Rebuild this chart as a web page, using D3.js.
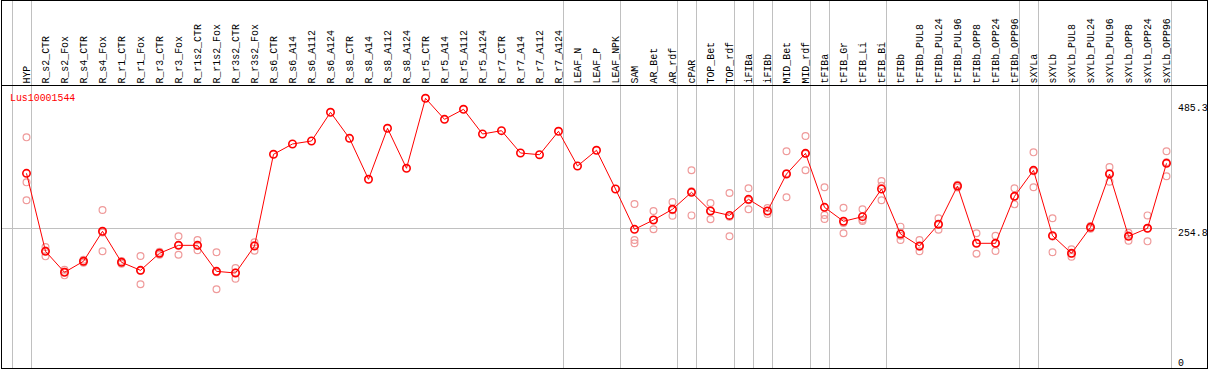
<!DOCTYPE html>
<html>
<head>
<meta charset="utf-8">
<script src="https://cdn.jsdelivr.net/npm/d3@7"></script>
<style>
  body { margin: 0; background: #fff; }
  svg { display: block; font-family: "Liberation Mono", "DejaVu Sans Mono", monospace; }
</style>
</head>
<body>
<div id="chart"></div>
<script>
const geneName = "Lus10001544";

const samples = [
  "HYP", "R_s2_CTR", "R_s2_Fox", "R_s4_CTR", "R_s4_Fox", "R_r1_CTR", "R_r1_Fox",
  "R_r3_CTR", "R_r3_Fox", "R_r1s2_CTR", "R_r1s2_Fox", "R_r3s2_CTR", "R_r3s2_Fox",
  "R_s6_CTR", "R_s6_A14", "R_s6_A112", "R_s6_A124", "R_s8_CTR", "R_s8_A14",
  "R_s8_A112", "R_s8_A124", "R_r5_CTR", "R_r5_A14", "R_r5_A112", "R_r5_A124",
  "R_r7_CTR", "R_r7_A14", "R_r7_A112", "R_r7_A124", "LEAF_N", "LEAF_P", "LEAF_NPK",
  "SAM", "AR_Bet", "AR_rdf", "cPAR", "TOP_Bet", "TOP_rdf", "iFIBa", "iFIBb",
  "MID_Bet", "MID_rdf", "tFIBa", "tFIB_Gr", "tFIB_Li", "tFIB_Bi", "tFIBb",
  "tFIBb_PUL8", "tFIBb_PUL24", "tFIBb_PUL96", "tFIBb_OPP8", "tFIBb_OPP24", "tFIBb_OPP96",
  "sXYLa", "sXYLb", "sXYLb_PUL8", "sXYLb_PUL24", "sXYLb_PUL96", "sXYLb_OPP8",
  "sXYLb_OPP24", "sXYLb_OPP96"
];

const means = [
  352.3, 214.0, 176.8, 196.3, 249.5, 194.5, 180.3, 210.5, 224.6, 224.6, 178.5, 175.5, 223.4,
  386.0, 404.3, 409.6, 460.5, 414.3, 341.7, 432.1, 361.2, 485.3, 448.0, 465.8, 422.0,
  427.9, 388.3, 385.3, 426.8, 365.3, 393.1, 324.5,
  253.0, 269.5, 288.5, 318.6, 285.5, 277.7, 306.2, 285.5, 351.1, 387.7,
  292.0, 267.2, 275.4, 324.5, 244.7, 223.4, 261.9, 329.8, 228.2, 228.2, 311.5,
  357.6, 241.7, 210.5, 256.5, 351.1, 240.6, 254.8, 370.0
];

// replicate values per sample (empty where only the mean is shown)
const replicates = [
  [416.1, 336.3, 304.4], [221.6, 215.3, 205.1], [181.4, 177.6, 171.4], [199.0, 196.3, 193.6],
  [287.2, 247.3, 214.0], [197.0, 194.5, 192.0], [205.7, 179.7, 155.5], [213.0, 210.5, 208.0],
  [240.6, 225.2, 208.0], [234.0, 224.0, 215.8], [212.2, 176.7, 146.6], [184.4, 176.6, 165.5],
  [230.0, 225.1, 215.1],
  [], [], [], [], [], [], [], [], [], [], [], [], [], [], [], [], [], [], [],
  [297.9, 234.0, 228.2], [285.5, 270.0, 253.0], [301.4, 287.0, 277.1], [357.6, 320.5, 277.7],
  [299.7, 286.0, 270.8], [317.4, 275.1, 240.6], [325.7, 304.4, 288.5], [290.8, 285.5, 280.2],
  [391.3, 352.3, 309.7], [418.5, 387.0, 357.6], [327.5, 278.4, 271.3], [291.3, 264.4, 245.9],
  [288.5, 270.0, 267.7], [338.7, 330.4, 304.4], [257.7, 241.6, 234.0], [234.0, 222.2, 214.0],
  [272.5, 261.0, 252.3], [332.0, 329.8, 327.0], [245.9, 228.9, 209.8], [241.7, 228.4, 214.5],
  [325.7, 311.5, 297.3], [389.5, 355.8, 327.5], [272.5, 240.4, 212.2], [217.6, 209.5, 204.4],
  [259.0, 256.5, 254.0], [363.5, 352.4, 337.4], [247.0, 242.0, 232.8], [277.7, 255.0, 231.7],
  [391.3, 371.7, 347.0]
];

// last sample of each group, a grey rule is drawn after it
const groupEnds = [
  "HYP", "R_r7_A124", "LEAF_NPK", "AR_rdf", "cPAR", "TOP_rdf", "iFIBa", "iFIBb",
  "MID_rdf", "tFIBa", "tFIB_Bi", "tFIBb_OPP96", "sXYLa", "sXYLb_OPP96"
];

const yTicks = [485.3, 254.8, 0];

const width = 1209, height = 370;
const headerBottom = 85.5, plotBottom = 368.5;
const fontSize = 11.5, squeeze = 0.86;  // narrow mono, like the old bitmap font

const svg = d3.select("#chart").append("svg")
  .attr("width", width)
  .attr("height", height);

const x = d3.scaleBand()
  .domain(samples)
  .range([11.5, 1170.5]);

const y = d3.scaleLinear()
  .domain([0, d3.max(means)])
  .range([372, 98.3]);

const cx = d => x(d) + 15;

// grey group separators
const seps = [x(samples[0])].concat(groupEnds.map(d => x(d) + x.bandwidth()));
svg.append("g")
  .selectAll("line")
  .data(seps)
  .join("line")
  .attr("x1", d => Math.round(d) + 0.5)
  .attr("x2", d => Math.round(d) + 0.5)
  .attr("y1", 1)
  .attr("y2", plotBottom)
  .attr("stroke", "#c0c0c0")
  .attr("stroke-width", 1)
  .attr("shape-rendering", "crispEdges");

// grid at inner ticks
svg.append("g")
  .selectAll("line")
  .data(yTicks.filter(d => d > 0 && d < d3.max(means)))
  .join("line")
  .attr("x1", 1)
  .attr("x2", 1177)
  .attr("y1", d => Math.round(y(d)) + 0.5)
  .attr("y2", d => Math.round(y(d)) + 0.5)
  .attr("stroke", "#c0c0c0")
  .attr("shape-rendering", "crispEdges");

// frame + header rule
svg.append("rect")
  .attr("x", 1).attr("y", 0.5)
  .attr("width", 1206.5).attr("height", plotBottom - 0.5)
  .attr("fill", "none")
  .attr("stroke", "#000")
  .attr("shape-rendering", "crispEdges");

svg.append("line")
  .attr("x1", 1).attr("x2", 1207.5)
  .attr("y1", headerBottom).attr("y2", headerBottom)
  .attr("stroke", "#000")
  .attr("shape-rendering", "crispEdges");

// rotated sample names
svg.append("g")
  .selectAll("text")
  .data(samples)
  .join("text")
  .attr("transform", d => `translate(${x(d) + 18.5},83.5) rotate(-90) scale(${squeeze},1)`)
  .attr("font-size", fontSize)
  .attr("fill", "#000")
  .text(d => d);

// y labels on the right
svg.append("g")
  .selectAll("text")
  .data(yTicks)
  .join("text")
  .attr("transform", d => `translate(1178,${Math.min(Math.max(y(d) + 7.5, 111), 365.5)}) scale(${squeeze},1)`)
  .attr("font-size", fontSize)
  .attr("fill", "#000")
  .text(d => d);

svg.append("text")
  .attr("transform", `translate(10,101) scale(${squeeze},1)`)
  .attr("font-size", fontSize)
  .attr("fill", "#ff0000")
  .text(geneName);

// replicates
const reps = samples.flatMap((s, i) => replicates[i].map(v => ({s, v})));
svg.append("g")
  .selectAll("circle")
  .data(reps)
  .join("circle")
  .attr("cx", d => cx(d.s))
  .attr("cy", d => y(d.v))
  .attr("r", 3.4)
  .attr("fill", "none")
  .attr("stroke", "#ef9a9a")
  .attr("stroke-width", 1.2);

// mean line
const pts = samples.map((s, i) => ({s, v: means[i]}));
svg.append("path")
  .datum(pts)
  .attr("fill", "none")
  .attr("stroke", "#ff0000")
  .attr("stroke-width", 1)
  .attr("d", d3.line().x(d => cx(d.s)).y(d => y(d.v)));

svg.append("g")
  .selectAll("circle")
  .data(pts)
  .join("circle")
  .attr("cx", d => cx(d.s))
  .attr("cy", d => y(d.v))
  .attr("r", 3.7)
  .attr("fill", "none")
  .attr("stroke", "#ff0000")
  .attr("stroke-width", 1.6);
</script>
</body>
</html>
